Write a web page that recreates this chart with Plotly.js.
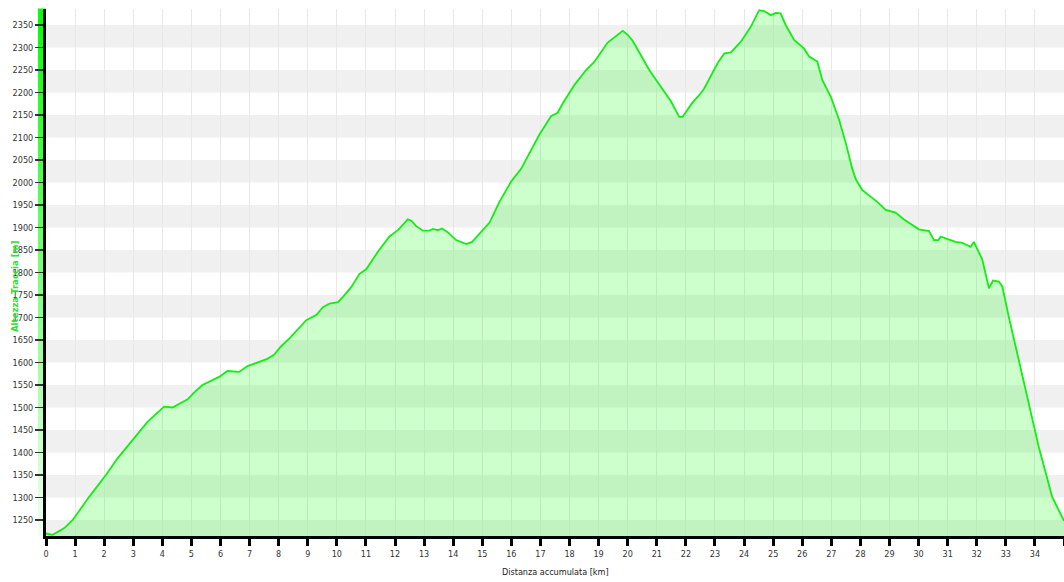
<!DOCTYPE html>
<html>
<head>
<meta charset="utf-8">
<script src="https://cdn.plot.ly/plotly-3.0.1.min.js"></script>
<style>
html,body{margin:0;padding:0;background:#fff;}
#chart{width:1064px;height:582px;}
</style>
</head>
<body>
<div id="chart"></div>
<script>
// Distance (km) and elevation (m) read from the profile
const distanceKm = [0,0.23,0.63,0.92,1.49,2.06,2.46,3.03,3.32,3.49,4.06,4.35,4.87,5.09,5.38,5.67,5.95,6.24,6.64,6.93,7.27,7.61,7.84,8.07,8.38,8.95,9.30,9.52,9.75,10.04,10.21,10.50,10.78,11.01,11.41,11.81,12.10,12.44,12.56,12.73,12.96,13.19,13.30,13.47,13.62,13.82,14.10,14.28,14.45,14.65,14.96,15.25,15.59,15.99,16.34,16.96,17.37,17.59,17.77,18.17,18.57,18.85,19.31,19.48,19.65,19.83,20.00,20.17,20.74,21.20,21.49,21.77,21.89,22.23,22.46,22.63,22.92,23.09,23.32,23.55,23.89,24.23,24.52,24.69,24.92,25.09,25.26,25.43,25.72,26.06,26.24,26.52,26.69,26.98,27.27,27.50,27.73,27.85,28.07,28.30,28.58,28.87,29.21,29.50,30.01,30.36,30.53,30.68,30.76,30.93,31.27,31.50,31.79,31.90,32.19,32.42,32.56,32.76,32.88,33.10,33.50,33.79,34.13,34.59,34.93,35.0];
const elevationM = [1220,1217,1232,1250,1302,1350,1387,1432,1454,1468,1502,1500,1518,1533,1550,1559,1568,1581,1579,1592,1600,1608,1617,1635,1654,1694,1706,1723,1731,1734,1746,1768,1797,1807,1846,1880,1894,1918,1915,1903,1893,1893,1897,1894,1898,1889,1872,1868,1863,1868,1891,1911,1957,2002,2031,2106,2148,2155,2176,2217,2250,2268,2311,2320,2328,2337,2328,2315,2250,2206,2180,2146,2146,2178,2194,2209,2246,2265,2287,2289,2313,2346,2383,2381,2372,2377,2376,2350,2317,2298,2280,2269,2228,2191,2139,2087,2028,2006,1983,1972,1957,1939,1933,1918,1896,1892,1872,1872,1880,1876,1868,1866,1857,1868,1829,1765,1782,1780,1769,1702,1591,1509,1413,1302,1257,1248];

const yTickVals = [];
for (let v = 1250; v <= 2350; v += 50) yTickVals.push(v);
const xTickVals = [];
for (let v = 0; v <= 35; v++) xTickVals.push(v);

const yMin = 1214.4, yMax = 2385.6;

const shapes = [];
// alternating horizontal bands
for (let b = 1200; b < 2400; b += 100) {
  shapes.push({type:'rect', xref:'paper', yref:'y', x0:0, x1:1, y0:b, y1:b+50,
    fillcolor:'#f0f0f0', line:{width:0}, layer:'below'});
}
// green gradient strip left of the axis
const nSeg = 60;
for (let i = 0; i < nSeg; i++) {
  const t = i / (nSeg - 1); // 0 bottom -> 1 top
  const r = Math.round(240 * (1 - t));
  const b = Math.round(240 * (1 - t));
  shapes.push({type:'rect', xref:'paper', yref:'paper',
    x0:-8/1018, x1:-0.6/1018, y0:i/nSeg, y1:(i+1)/nSeg + 0.001,
    fillcolor:`rgb(${r},255,${b})`, line:{width:0}, layer:'below'});
}

const font = '"Liberation Sans Narrow", "DejaVu Sans Condensed", "DejaVu Sans", sans-serif';

const trace = {
  x: distanceKm, y: elevationM, type:'scatter', mode:'lines',
  line:{color:'#11ee11', width:1.8},
  fill:'tozeroy', fillcolor:'rgba(0,255,0,0.2)',
  hoverinfo:'x+y'
};

const layout = {
  width:1064, height:582,
  margin:{l:46, r:0, t:9, b:46},
  paper_bgcolor:'#ffffff', plot_bgcolor:'rgba(0,0,0,0)',
  showlegend:false,
  font:{family:font, size:9, color:'#333'},
  xaxis:{range:[0,35], tickvals:xTickVals, ticktext:xTickVals.map(String),
    showgrid:true, gridcolor:'#e8e8e8', gridwidth:1,
    showline:true, linecolor:'#000', linewidth:3,
    ticks:'outside', ticklen:7, tickwidth:3, tickcolor:'#000',
    tickfont:{family:font, size:9, color:'#333'}, zeroline:false, fixedrange:true},
  yaxis:{range:[yMin,yMax], tickvals:yTickVals, ticktext:yTickVals.map(String),
    showgrid:false, showline:true, linecolor:'#000', linewidth:3,
    ticks:'outside', ticklen:8, tickwidth:1.5, tickcolor:'#333',
    tickfont:{family:font, size:9, color:'#333'}, zeroline:false, fixedrange:true},
  shapes: shapes,
  annotations:[
    {text:'Altezza Traccia [m]', xref:'paper', yref:'paper', x:-32/1018, y:(536-287)/527,
     textangle:-90, showarrow:false, xanchor:'center', yanchor:'middle',
     font:{family:font, size:9.5, color:'#33dd33', weight:'bold'}},
    {text:'Distanza accumulata [km]', xref:'paper', yref:'paper', x:0.5, y:-36/527,
     showarrow:false, xanchor:'center', yanchor:'middle',
     font:{family:font, size:9, color:'#222'}}
  ]
};

Plotly.newPlot('chart', [trace], layout, {displayModeBar:false, staticPlot:true});
</script>
</body>
</html>
